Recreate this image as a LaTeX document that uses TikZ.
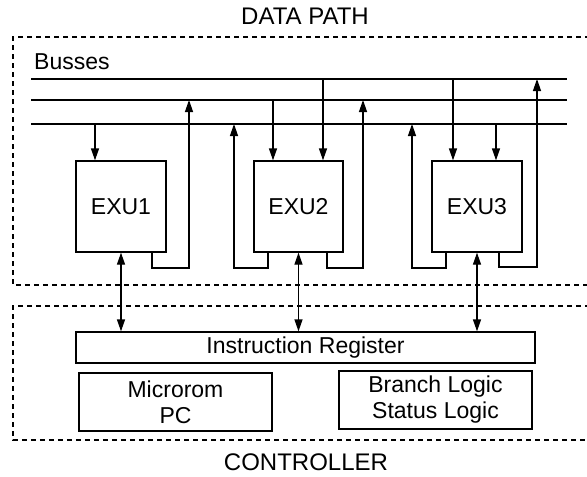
\documentclass[tikz,border=0pt]{standalone}
\usepackage{fontspec}
\setmainfont{Liberation Sans}
\usetikzlibrary{arrows.meta}
\tikzset{
  lbl/.style={inner sep=0pt, font=\fontsize{23}{26}\selectfont},
  box/.style={draw, line width=1.3pt, inner sep=0pt, align=center, font=\fontsize{23}{26}\selectfont},
  bus/.style={line width=1.4pt},
  wire/.style={line width=1.3pt},
  tip/.style={-{Triangle[length=12pt,width=8pt]}},
  dbl/.style={{Triangle[length=12pt,width=8pt]}-{Triangle[length=12pt,width=8pt]}},
  region/.style={line width=1.2pt, dash pattern=on 5pt off 4pt}
}
\begin{document}
\begin{tikzpicture}[x=1pt,y=-1pt]
\useasboundingbox (0,0) rectangle (587,477);
\fill[white] (0,0) rectangle (587,477);
% region labels
\node[lbl, font=\fontsize{24}{26}\selectfont] (dp) at (305,16) {DATA PATH};
\node[lbl, font=\fontsize{24}{26}\selectfont] (ct) at (306,462) {CONTROLLER};
% dashed regions (open at right)
\draw[region] (590,37) -| (13,285) -- (590,285);
\draw[region] (590,306) -| (13,440) -- (590,440);
% busses
\node[lbl, anchor=west] (bs) at (34,62) {Busses};
\coordinate (b1w) at (31,79);  \coordinate (b1e) at (567,79);
\coordinate (b2w) at (31,100); \coordinate (b2e) at (567,100);
\coordinate (b3w) at (31,124); \coordinate (b3e) at (567,124);
\draw[bus] (b1w) -- (b1e);
\draw[bus] (b2w) -- (b2e);
\draw[bus] (b3w) -- (b3e);
% execution units
\node[box, minimum width=90pt, minimum height=91pt] (exu1) at (121,206.5) {EXU1};
\node[box, minimum width=89pt, minimum height=91pt] (exu2) at (298.5,206.5) {EXU2};
\node[box, minimum width=90pt, minimum height=91pt] (exu3) at (477,206.5) {EXU3};
% controller
\node[box, minimum width=459pt, minimum height=31pt] (ir) at (305.5,347.5) {Instruction Register};
\node[box, minimum width=193pt, minimum height=58pt] (mpc) at (175.5,402) {Microrom\\PC};
\node[box, minimum width=193pt, minimum height=58pt] (blg) at (435.5,400) {Branch Logic\\Status Logic};
% inputs from busses
\coordinate (d1) at (95,124);
\coordinate (d2) at (273,100);
\coordinate (d3) at (323,79);
\coordinate (d4) at (453,79);
\coordinate (d5) at (496,124);
\draw[wire,tip] (d1) -- (d1 |- exu1.north);
\draw[wire,tip] (d2) -- (d2 |- exu2.north);
\draw[wire,tip] (d3) -- (d3 |- exu2.north);
\draw[wire,tip] (d4) -- (d4 |- exu3.north);
\draw[wire,tip] (d5) -- (d5 |- exu3.north);
% outputs to busses
\coordinate (u1) at (189,100); \coordinate (f1) at (152,268);
\coordinate (u2) at (234,124); \coordinate (f2) at (268,268);
\coordinate (u3) at (363,100); \coordinate (f3) at (327,268);
\coordinate (u4) at (412,124); \coordinate (f4) at (446,268);
\coordinate (u5) at (537,79);  \coordinate (f5) at (499,267);
\draw[wire,tip] (f1 |- exu1.south) -- (f1) -| (u1);
\draw[wire,tip] (f2 |- exu2.south) -- (f2) -| (u2);
\draw[wire,tip] (f3 |- exu2.south) -- (f3) -| (u3);
\draw[wire,tip] (f4 |- exu3.south) -- (f4) -| (u4);
\draw[wire,tip] (f5 |- exu3.south) -- (f5) -| (u5);
% links to instruction register
\draw[wire,dbl] (exu1.south) -- (exu1.south |- ir.north);
\draw[wire,dbl] (exu2.south) -- (exu2.south |- ir.north);
\draw[wire,dbl] (exu3.south) -- (exu3.south |- ir.north);
\end{tikzpicture}
\end{document}
